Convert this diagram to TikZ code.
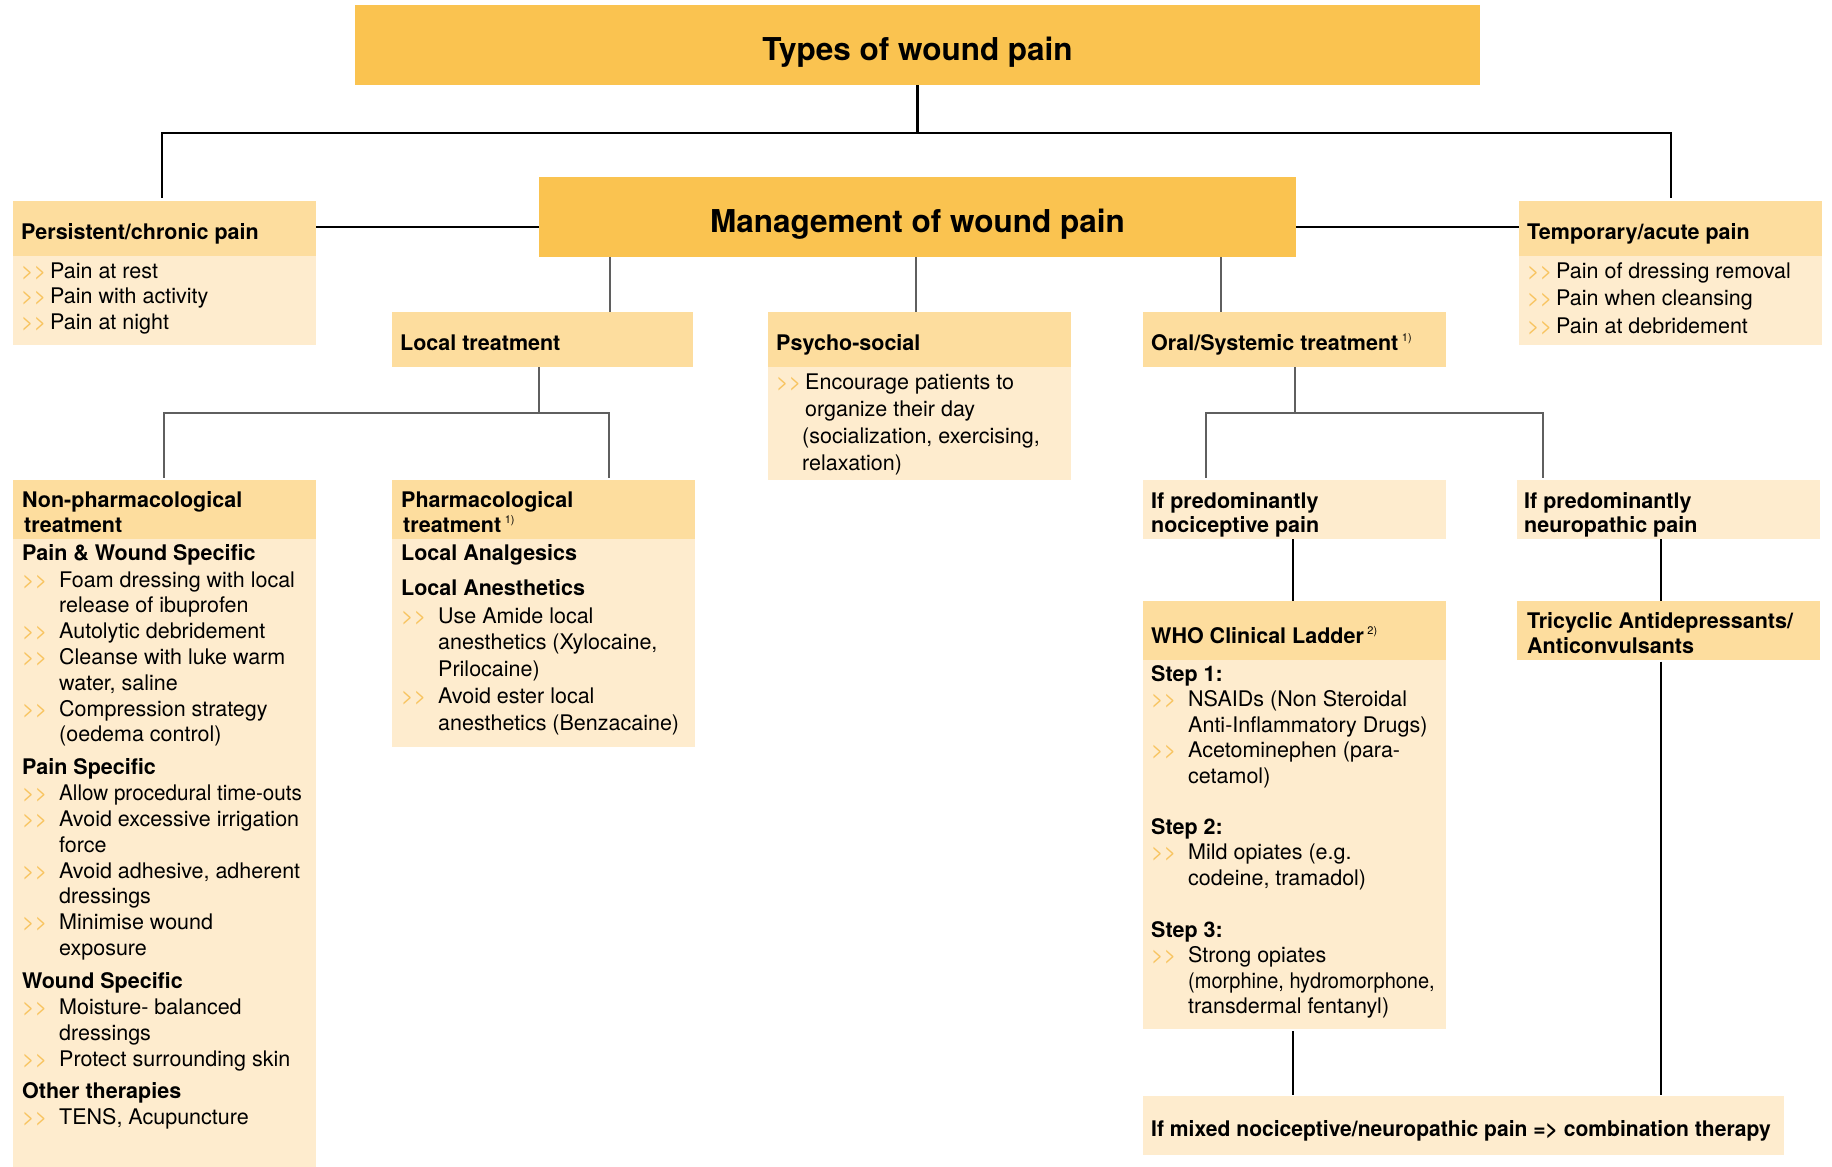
\documentclass[tikz,border=0pt]{standalone}
\usepackage{fontspec}
\setmainfont{TeX Gyre Heros}
\usetikzlibrary{calc}
\definecolor{titleor}{RGB}{250,195,80}
\definecolor{hdr}{RGB}{253,221,158}
\definecolor{bodyc}{RGB}{254,236,206}
\definecolor{bul}{RGB}{248,196,96}
\definecolor{glc}{RGB}{95,95,95}
\newcommand\fs{\fontsize{21.5}{25.5}\selectfont}
\newlength\bw
\newcommand\bl{\makebox[\bw][l]{\textcolor{bul}{>\kern0pt>}}}
\newcommand\cl{\hspace*{\bw}}
\newcommand\myfn[1]{\,\raisebox{9pt}{\fontsize{11}{11}\selectfont\mdseries #1}}
\newcommand\bx[6]{\node[box,fill=#2,minimum width={#5-#3},minimum height={#6-#4}] (#1) at (#3,#4) {};}
\newcommand\tx[4]{\node[anchor=base west,inner sep=0pt,font=\fs] (#1) at (#2,#3) {#4};}
\begin{document}
\begin{tikzpicture}[x=1pt,y=-1pt,
  box/.style={anchor=north west,inner sep=0pt,outer sep=0pt,draw=none},
  blk/.style={draw=black,line width=2.6pt},
  blk2/.style={draw=black,line width=2.4pt},
  gl/.style={draw=glc,line width=2.4pt}]
\useasboundingbox (0,0) rectangle (1832,1167);
\fill[white] (0,0) rectangle (1832,1167);
% boxes
\bx{title}{titleor}{355}{5}{1480}{85}
\bx{mg}{titleor}{539}{177}{1296}{257}
\bx{ph}{hdr}{13}{201}{316}{256}
\bx{pb}{bodyc}{13}{256}{316}{345}
\bx{th}{hdr}{1519}{201}{1822}{256}
\bx{tb}{bodyc}{1519}{256}{1822}{345}
\bx{lt}{hdr}{392}{312}{693}{367}
\bx{psh}{hdr}{768}{312}{1071}{367}
\bx{psb}{bodyc}{768}{367}{1071}{480}
\bx{or}{hdr}{1143}{312}{1446}{367}
\bx{nph}{hdr}{13}{480}{316}{539}
\bx{npb}{bodyc}{13}{539}{316}{1167}
\bx{pmh}{hdr}{392}{480}{695}{539}
\bx{pmb}{bodyc}{392}{539}{695}{747}
\bx{noci}{bodyc}{1143}{480}{1446}{539}
\bx{neuro}{bodyc}{1517}{480}{1820}{539}
\bx{whoh}{hdr}{1143}{601}{1446}{660}
\bx{whob}{bodyc}{1143}{660}{1446}{1029}
\bx{tric}{hdr}{1517}{601}{1820}{660}
\bx{mix}{bodyc}{1143}{1096}{1784}{1155}
% connectors
\draw[blk] (title.south) -- (title.south |- 0,133) coordinate (tj);
\draw[blk,shorten >=3pt,line join=miter] (tj) -| (ph.north -| 162,0);
\draw[blk,shorten >=3pt,line join=miter] (tj) -| (th.north -| 1671,0);
\draw[blk] (ph.east |- 0,227) -- (mg.west |- 0,227);
\draw[blk] (mg.east |- 0,227) -- (th.west |- 0,227);
\draw[gl] (mg.south -| 610,0) -- (lt.north -| 610,0);
\draw[gl] (mg.south -| 916,0) -- (psh.north -| 916,0);
\draw[gl] (mg.south -| 1221,0) -- (or.north -| 1221,0);
\draw[gl] (lt.south -| 539,0) -- (539,413) coordinate (lj);
\draw[gl,shorten >=2pt,line join=miter] (lj) -| (nph.north -| 164,0);
\draw[gl,shorten >=2pt,line join=miter] (lj) -| (pmh.north -| 609,0);
\draw[gl] (or.south -| 1295,0) -- (1295,413) coordinate (oj);
\draw[gl,shorten >=2pt,line join=miter] (oj) -| (noci.north -| 1206,0);
\draw[gl,shorten >=2pt,line join=miter] (oj) -| (neuro.north -| 1543,0);
\draw[blk2] (noci.south -| 1293,0) -- (whoh.north -| 1293,0);
\draw[blk2] (neuro.south -| 1661,0) -- (tric.north -| 1661,0);
\draw[blk2,shorten <=2pt,shorten >=1.5pt] (whob.south -| 1293,0) -- (mix.north -| 1293,0);
\draw[blk2,shorten <=1.5pt,shorten >=1.5pt] (tric.south -| 1661,0) -- (mix.north -| 1661,0);
% texts
\node[anchor=base,inner sep=0pt] (titleT) at (917.5,60) {\fontsize{31.5}{36}\selectfont\bfseries Types of wound pain};
\node[anchor=base,inner sep=0pt] (mgT) at (917.5,232) {\fontsize{31.5}{36}\selectfont\bfseries Management of wound pain};
\tx{phT}{21}{239}{\bfseries Persistent/chronic pain}
\tx{pbT}{21}{278}{\parbox[t]{290pt}{\fs\setlength\baselineskip{25.5pt}\setlength\bw{29pt}%
\bl Pain at rest\\ \bl Pain with activity\\ \bl Pain at night}}
\tx{thT}{1527}{239}{\bfseries Temporary/acute pain}
\tx{tbT}{1527}{278}{\parbox[t]{295pt}{\fs\setlength\baselineskip{27.5pt}\setlength\bw{29pt}%
\bl Pain of dressing removal\\ \bl Pain when cleansing\\ \bl Pain at debridement}}
\tx{ltT}{400}{350}{\bfseries Local treatment}
\tx{pshT}{776}{350}{\bfseries Psycho-social}
\tx{psbT}{776}{389}{\parbox[t]{295pt}{\fs\setlength\baselineskip{27.3pt}\setlength\bw{29pt}%
\bl Encourage patients to\\ \cl organize their day\\ \hspace*{26pt}(socialization, exercising,\\ \hspace*{26pt}relaxation)}}
\tx{orT}{1151}{350}{\bfseries Oral/Systemic treatment\myfn{1)}}
\tx{nphT}{22}{507}{\parbox[t]{290pt}{\fs\bfseries\setlength\baselineskip{25pt}Non-pharmacological\\ \hspace*{2pt}treatment}}
\tx{npbT}{22}{560}{\parbox[t]{400pt}{\fs\setlength\baselineskip{25.8pt}\setlength\bw{37pt}%
\textbf{Pain \& Wound Specific}\\[1.2pt]
\bl Foam dressing with local\\
\cl release of ibuprofen\\
\bl Autolytic debridement\\
\bl Cleanse with luke warm\\
\cl water, saline\\
\bl Compression strategy\\
\cl (oedema control)\\[7.2pt]
\textbf{Pain Specific}\\
\bl \scalebox{0.96}[1]{Allow procedural time-outs}\\
\bl Avoid excessive irrigation\\
\cl force\\
\bl Avoid adhesive, adherent\\
\cl dressings\\
\bl Minimise wound\\
\cl exposure\\[7.4pt]
\textbf{Wound Specific}\\
\bl Moisture- balanced\\
\cl dressings\\
\bl Protect surrounding skin\\[6.4pt]
\textbf{Other therapies}\\
\bl TENS, Acupuncture}}
\tx{pmhT}{401}{507}{\parbox[t]{290pt}{\fs\bfseries\setlength\baselineskip{25pt}Pharmacological\\ \hspace*{2pt}treatment\myfn{1)}}}
\tx{pmbT}{401}{560}{\parbox[t]{400pt}{\fs\setlength\baselineskip{26.8pt}\setlength\bw{37pt}%
\textbf{Local Analgesics}\\[8.2pt]
\textbf{Local Anesthetics}\\[1.2pt]
\bl Use Amide local\\
\cl anesthetics (Xylocaine,\\
\cl Prilocaine)\\
\bl Avoid ester local\\
\cl anesthetics (Benzacaine)}}
\tx{nociT}{1151}{508}{\parbox[t]{295pt}{\fs\bfseries\setlength\baselineskip{24.5pt}If predominantly\\ nociceptive pain}}
\tx{neuroT}{1524}{508}{\parbox[t]{295pt}{\fs\bfseries\setlength\baselineskip{24.5pt}If predominantly\\ neuropathic pain}}
\tx{whohT}{1151}{643}{\bfseries WHO Clinical Ladder\myfn{2)}}
\tx{whobT}{1151}{681}{\parbox[t]{400pt}{\fs\setlength\baselineskip{25.6pt}\setlength\bw{37pt}%
\textbf{Step 1:}\\
\bl NSAIDs (Non Steroidal\\
\cl Anti-Inflammatory Drugs)\\
\bl Acetominephen (para-\\
\cl cetamol)\\[25pt]
\textbf{Step 2:}\\
\bl Mild opiates (e.g.\\
\cl codeine, tramadol)\\[26.2pt]
\textbf{Step 3:}\\
\bl Strong opiates\\
\cl \scalebox{0.93}[1]{(morphine, hydromorphone,}\\
\cl transdermal fentanyl)}}
\tx{tricT}{1527}{628}{\parbox[t]{295pt}{\fs\bfseries\setlength\baselineskip{25pt}Tricyclic Antidepressants/\\ Anticonvulsants}}
\tx{mixT}{1151}{1136}{\bfseries\scalebox{0.98}[1]{If mixed nociceptive/neuropathic pain => combination therapy}}
\end{tikzpicture}
\end{document}
